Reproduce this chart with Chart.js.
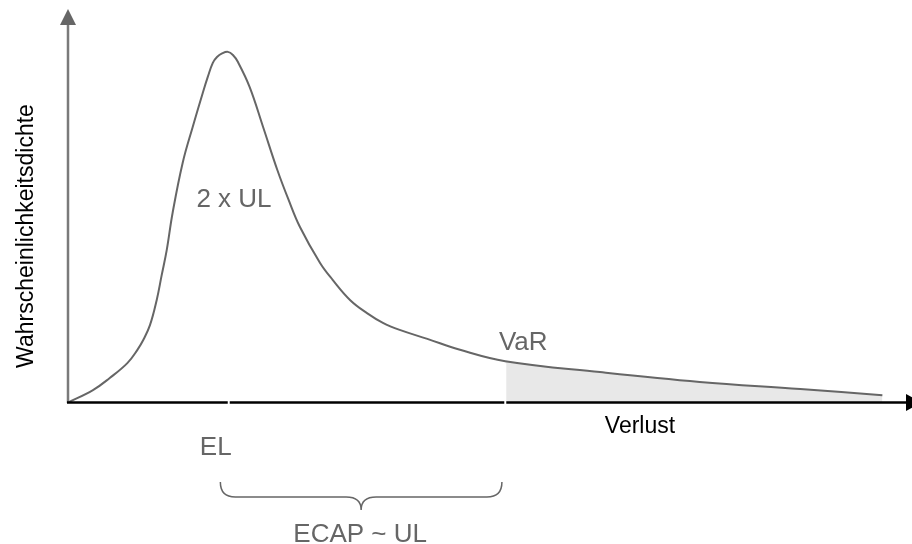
<!DOCTYPE html>
<html>
<head>
<meta charset="utf-8">
<script src="https://cdn.jsdelivr.net/npm/chart.js@4.4.0/dist/chart.umd.min.js"></script>
<style>
  body { margin: 0; background: #fff; }
  #wrap { width: 912px; height: 544px; position: relative; }
</style>
</head>
<body>
<div id="wrap"><canvas id="chart"></canvas></div>
<script>
// Loss distribution (x: Verlust, y: Wahrscheinlichkeitsdichte)
const loss = [0, 3.1, 5.1, 7.2, 8.4, 9.1, 9.9, 10.7, 11.3, 11.9, 12.6, 13.8, 15.0, 16.2, 16.8, 17.4,
  17.9, 18.5, 19.2, 19.8, 20.4, 21.8, 23.4, 25.1, 26.4, 27.8, 30.2, 31.7, 33.8, 35.8, 37.7, 39.7, 43.0,
  46.9, 52.3, 63.6, 75.5, 87.5, 97.3];
const density = [0, 3.3, 6.4, 10.2, 13.6, 16.1, 19.9, 26.3, 32.7, 39.1, 48.6, 61.4, 70.6, 79.3, 83.4, 87.0,
  88.5, 89.4, 89.8, 89.0, 87.2, 80.8, 70.6, 59.6, 52.2, 45.0, 35.8, 31.5, 26.3, 23.0, 20.5, 18.7, 16.4,
  13.6, 10.7, 7.9, 5.4, 3.6, 2.0];

const elX = 19.3;    // expected loss
const varX = 52.3;   // value at risk
const braceFrom = 18.3;
const braceTo = 51.9;

const curve = loss.map((x, i) => ({ x: x, y: density[i] }));
const tail = curve.filter(p => p.x >= varX);

const gray = '#666666';

// axes, arrows, labels and the brace
const decor = {
  id: 'decor',
  afterDatasetsDraw(chart) {
    const ctx = chart.ctx;
    const xs = chart.scales.x, ys = chart.scales.y;
    const x0 = xs.getPixelForValue(0), y0 = ys.getPixelForValue(0);
    ctx.save();

    // y axis
    ctx.strokeStyle = '#7a7a7a';
    ctx.lineWidth = 2.5;
    ctx.beginPath();
    ctx.moveTo(x0 + 1, y0);
    ctx.lineTo(x0 + 1, 24);
    ctx.stroke();
    ctx.fillStyle = gray;
    ctx.beginPath();
    ctx.moveTo(x0 + 1, 9);
    ctx.lineTo(x0 - 7, 25);
    ctx.lineTo(x0 + 9, 25);
    ctx.closePath();
    ctx.fill();

    // x axis
    ctx.strokeStyle = '#000';
    ctx.beginPath();
    ctx.moveTo(x0, y0 - 0.5);
    ctx.lineTo(907, y0 - 0.5);
    ctx.stroke();
    ctx.fillStyle = '#000';
    ctx.beginPath();
    ctx.moveTo(906, y0 - 9);
    ctx.lineTo(906, y0 + 8);
    ctx.lineTo(922, y0 - 0.5);
    ctx.closePath();
    ctx.fill();

    // small white breaks at EL and VaR
    ctx.strokeStyle = '#fff';
    ctx.lineWidth = 2;
    const elPx = xs.getPixelForValue(elX);
    ctx.beginPath();
    ctx.moveTo(elPx, y0 - 4);
    ctx.lineTo(elPx, y0 + 3);
    ctx.stroke();
    const varPx = xs.getPixelForValue(varX);
    const varTop = ys.getPixelForValue(density[loss.indexOf(varX)]);
    ctx.beginPath();
    ctx.moveTo(varPx, varTop + 2);
    ctx.lineTo(varPx, y0 + 3);
    ctx.stroke();

    // brace under the axis from EL to VaR
    const bl = xs.getPixelForValue(braceFrom), br = xs.getPixelForValue(braceTo);
    const bm = (bl + br) / 2;
    ctx.strokeStyle = gray;
    ctx.lineWidth = 1.5;
    ctx.beginPath();
    ctx.moveTo(bl, 482);
    ctx.quadraticCurveTo(bl, 497, bl + 15, 497);
    ctx.lineTo(bm - 15, 497);
    ctx.quadraticCurveTo(bm, 497, bm, 510);
    ctx.quadraticCurveTo(bm, 497, bm + 15, 497);
    ctx.lineTo(br - 15, 497);
    ctx.quadraticCurveTo(br, 497, br, 482);
    ctx.stroke();

    // texts
    ctx.textAlign = 'center';
    ctx.textBaseline = 'alphabetic';
    ctx.fillStyle = gray;
    ctx.font = '26px "Liberation Sans", Arial, sans-serif';
    ctx.fillText('2 x UL', 234, 207);
    ctx.fillText('VaR', varPx + 18, 350);
    ctx.fillText('EL', elPx - 13, 455);
    ctx.fillText('ECAP ~ UL', bm - 1, 542);

    ctx.fillStyle = '#000';
    ctx.font = '23px "Liberation Sans", Arial, sans-serif';
    ctx.fillText('Verlust', 640, 433);
    ctx.translate(33, 236);
    ctx.rotate(-Math.PI / 2);
    ctx.fillText('Wahrscheinlichkeitsdichte', 0, 0);
    ctx.restore();
  }
};

new Chart(document.getElementById('chart'), {
  type: 'line',
  data: {
    datasets: [
      {
        data: curve,
        borderColor: gray,
        borderWidth: 2,
        pointRadius: 0,
        tension: 0.4,
        fill: false
      },
      {
        data: tail,
        borderWidth: 0,
        borderColor: 'rgba(0,0,0,0)',
        backgroundColor: '#e8e8e8',
        pointRadius: 0,
        tension: 0.4,
        fill: 'origin'
      }
    ]
  },
  options: {
    responsive: true,
    maintainAspectRatio: false,
    animation: false,
    layout: { padding: { left: 67, right: 7, top: 12, bottom: 141 } },
    scales: {
      x: { type: 'linear', min: 0, max: 100, display: false },
      y: { min: 0, max: 100, display: false }
    },
    plugins: { legend: { display: false }, tooltip: { enabled: false } }
  },
  plugins: [decor]
});
</script>
</body>
</html>
